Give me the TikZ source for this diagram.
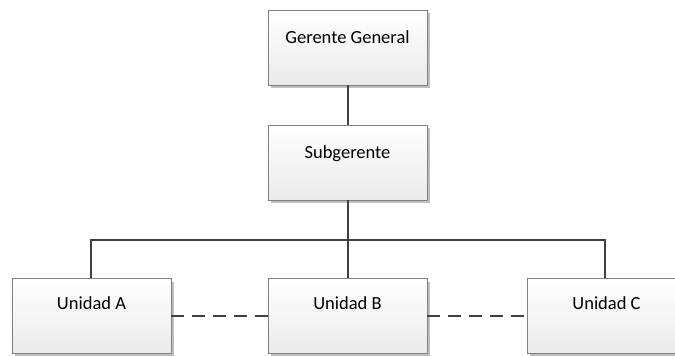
\documentclass[tikz,border=0pt]{standalone}
\usepackage{fontspec}
\setmainfont{Carlito}
\usetikzlibrary{shadows}
\begin{document}
\begin{tikzpicture}[x=1pt,y=-1pt,
  orgbox/.style={rectangle, draw=black!50, line width=0.8pt, minimum width=159pt, minimum height=75pt,
     top color=white, bottom color=black!8,
     drop shadow={shadow xshift=3pt, shadow yshift=-3pt, fill=black!25, opacity=1}},
  lbl/.style={font=\fontsize{18.5}{22}\selectfont, anchor=center},
  conn/.style={draw=black!75, line width=1.8pt},
  dconn/.style={conn, dash pattern=on 13pt off 8pt}]
\clip (0,0) rectangle (675,356);
\useasboundingbox (0,0) rectangle (675,356);
\node[orgbox] (gg) at (347.5,47.5) {};
\node[orgbox] (sg) at (347.5,162.5) {};
\node[orgbox] (ua) at (91.5,316) {};
\node[orgbox] (ub) at (347.5,316) {};
\node[orgbox] (uc) at (606.5,316) {};
\node[lbl] (tgg) at ([yshift=-28pt]gg.north) {Gerente General};
\node[lbl] (tsg) at ([yshift=-29pt]sg.north) {Subgerente};
\node[lbl] (tua) at ([yshift=-25pt]ua.north) {Unidad A};
\node[lbl] (tub) at ([yshift=-25pt]ub.north) {Unidad B};
\node[lbl] (tuc) at ([yshift=-25pt]uc.north) {Unidad C};
\coordinate (j) at (348,240);
\coordinate (jl) at (91,240);
\coordinate (jr) at (605,240);
\draw[conn] (gg.south -| j) -- (sg.north -| j);
\draw[conn] (sg.south -| j) -- (ub.north -| j);
\draw[conn, line cap=rect] (jl) -- (jr);
\draw[conn] (jl) -- (ua.north -| jl);
\draw[conn] (jr) -- (uc.north -| jr);
\draw[dconn] (ua.east) -- (ub.west);
\draw[dconn] (ub.east) -- (uc.west);
\end{tikzpicture}
\end{document}
